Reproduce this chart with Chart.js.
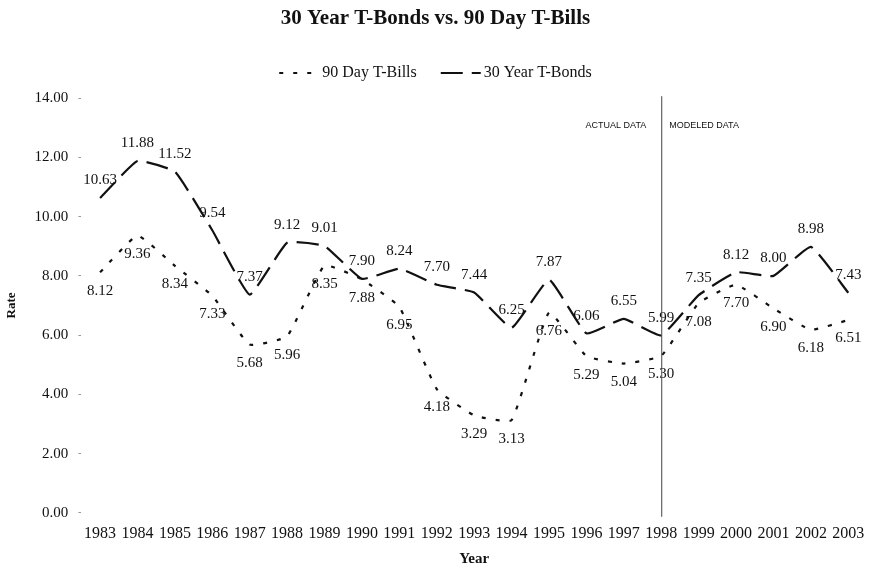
<!DOCTYPE html>
<html><head><meta charset="utf-8">
<script src="https://cdn.jsdelivr.net/npm/chart.js@4.4.1/dist/chart.umd.min.js"></script>
<style>html,body{margin:0;padding:0;background:#fff}#wrap{width:871px;height:568px}</style>
</head><body><div id="wrap"><canvas id="c" width="871" height="568"></canvas></div>
<script>
const years = ['1983','1984','1985','1986','1987','1988','1989','1990','1991','1992','1993','1994','1995','1996','1997','1998','1999','2000','2001','2002','2003'];
const tBills = [8.12,9.36,8.34,7.33,5.68,5.96,8.35,7.88,6.95,4.18,3.29,3.13,6.76,5.29,5.04,5.30,7.08,7.70,6.90,6.18,6.51];
const tBonds = [10.63,11.88,11.52,9.54,7.37,9.12,9.01,7.90,8.24,7.70,7.44,6.25,7.87,6.06,6.55,5.99,7.35,8.12,8.00,8.98,7.43];
const splitYear = '1998';
const actualText = 'ACTUAL DATA';
const modeledText = 'MODELED DATA';

const serif = '"Liberation Serif","Times New Roman",serif';
const billDash = [4, 10];
const bondDash = [22, 9];

const labelPlugin = {
  id: 'valueLabels',
  afterDatasetsDraw(chart) {
    const ctx = chart.ctx;
    ctx.save();
    ctx.font = '15px ' + serif;
    ctx.fillStyle = '#111';
    ctx.textAlign = 'center';
    chart.data.datasets.forEach((ds, di) => {
      const meta = chart.getDatasetMeta(di);
      meta.data.forEach((pt, i) => {
        const v = ds.data[i].toFixed(2);
        if (di === 1) { ctx.textBaseline = 'bottom'; ctx.fillText(v, pt.x, pt.y - 10); }
        else { ctx.textBaseline = 'top'; ctx.fillText(v, pt.x, pt.y + 11); }
      });
    });
    ctx.restore();
  }
};

const splitPlugin = {
  id: 'splitLine',
  afterDatasetsDraw(chart) {
    const ctx = chart.ctx, xs = chart.scales.x, a = chart.chartArea;
    const x = xs.getPixelForValue(years.indexOf(splitYear));
    ctx.save();
    ctx.strokeStyle = '#444';
    ctx.lineWidth = 1;
    ctx.beginPath();
    ctx.moveTo(x + 0.5, a.top - 2);
    ctx.lineTo(x + 0.5, a.bottom + 4);
    ctx.stroke();
    ctx.font = '9px "Liberation Sans",Arial,sans-serif';
    ctx.fillStyle = '#111';
    ctx.textBaseline = 'middle';
    ctx.textAlign = 'right';
    ctx.fillText(actualText, x - 15, a.top + 27);
    ctx.textAlign = 'left';
    ctx.fillText(modeledText, x + 8, a.top + 27);
    ctx.restore();
  }
};

const legendPlugin = {
  id: 'customLegend',
  afterDraw(chart) {
    const ctx = chart.ctx;
    const ds = chart.data.datasets;
    const sw = 40, gapSw = 3, gapItem = 24, y = 73;
    ctx.save();
    ctx.font = '16px ' + serif;
    const widths = ds.map(d => sw + gapSw + ctx.measureText(d.label).width);
    const total = widths.reduce((s, w) => s + w, 0) + gapItem * (ds.length - 1);
    let x = chart.width / 2 - total / 2;
    ds.forEach((d, i) => {
      ctx.strokeStyle = '#111';
      ctx.lineWidth = 2.2;
      ctx.setLineDash(d.borderDash);
      ctx.beginPath();
      ctx.moveTo(x, y);
      ctx.lineTo(x + sw, y);
      ctx.stroke();
      ctx.setLineDash([]);
      ctx.fillStyle = '#111';
      ctx.textAlign = 'left';
      ctx.textBaseline = 'middle';
      ctx.fillText(d.label, x + sw + gapSw, y);
      x += widths[i] + gapItem;
    });
    ctx.restore();
  }
};

new Chart(document.getElementById('c'), {
  type: 'line',
  data: {
    labels: years,
    datasets: [
      { label: '90 Day T-Bills', data: tBills, borderColor: '#111', backgroundColor: '#111', borderWidth: 2.2, borderDash: billDash, pointRadius: 0, tension: 0.12, fill: false },
      { label: '30 Year T-Bonds', data: tBonds, borderColor: '#111', backgroundColor: '#111', borderWidth: 2.2, borderDash: bondDash, pointRadius: 0, tension: 0.12, fill: false }
    ]
  },
  plugins: [labelPlugin, splitPlugin, legendPlugin],
  options: {
    responsive: false,
    animation: false,
    layout: { padding: { left: 4, right: 4, top: 0, bottom: 0 } },
    plugins: {
      title: { display: true, text: '30 Year T-Bonds vs. 90 Day T-Bills', color: '#111', font: { family: serif, size: 21, weight: 'bold' }, padding: { top: 6, bottom: 67 } },
      legend: { display: false },
      tooltip: { enabled: false }
    },
    scales: {
      x: {
        offset: true,
        grid: { display: false },
        border: { display: false },
        ticks: { color: '#111', font: { family: serif, size: 16 }, maxRotation: 0, autoSkip: false, padding: 3 },
        title: { display: true, text: 'Year', color: '#111', font: { family: serif, size: 15, weight: 'bold' }, padding: { top: 4, bottom: 0 } }
      },
      y: {
        min: 0, max: 14,
        grid: { drawOnChartArea: false, drawTicks: true, tickLength: 3, color: '#999' },
        border: { display: false },
        ticks: { stepSize: 2, color: '#111', font: { family: serif, size: 15 }, padding: 10, callback: v => Number(v).toFixed(2) },
        title: { display: true, text: 'Rate', color: '#111', font: { family: serif, size: 13, weight: 'bold' }, padding: { top: 0, bottom: 5 } }
      }
    }
  }
});
</script></body></html>
